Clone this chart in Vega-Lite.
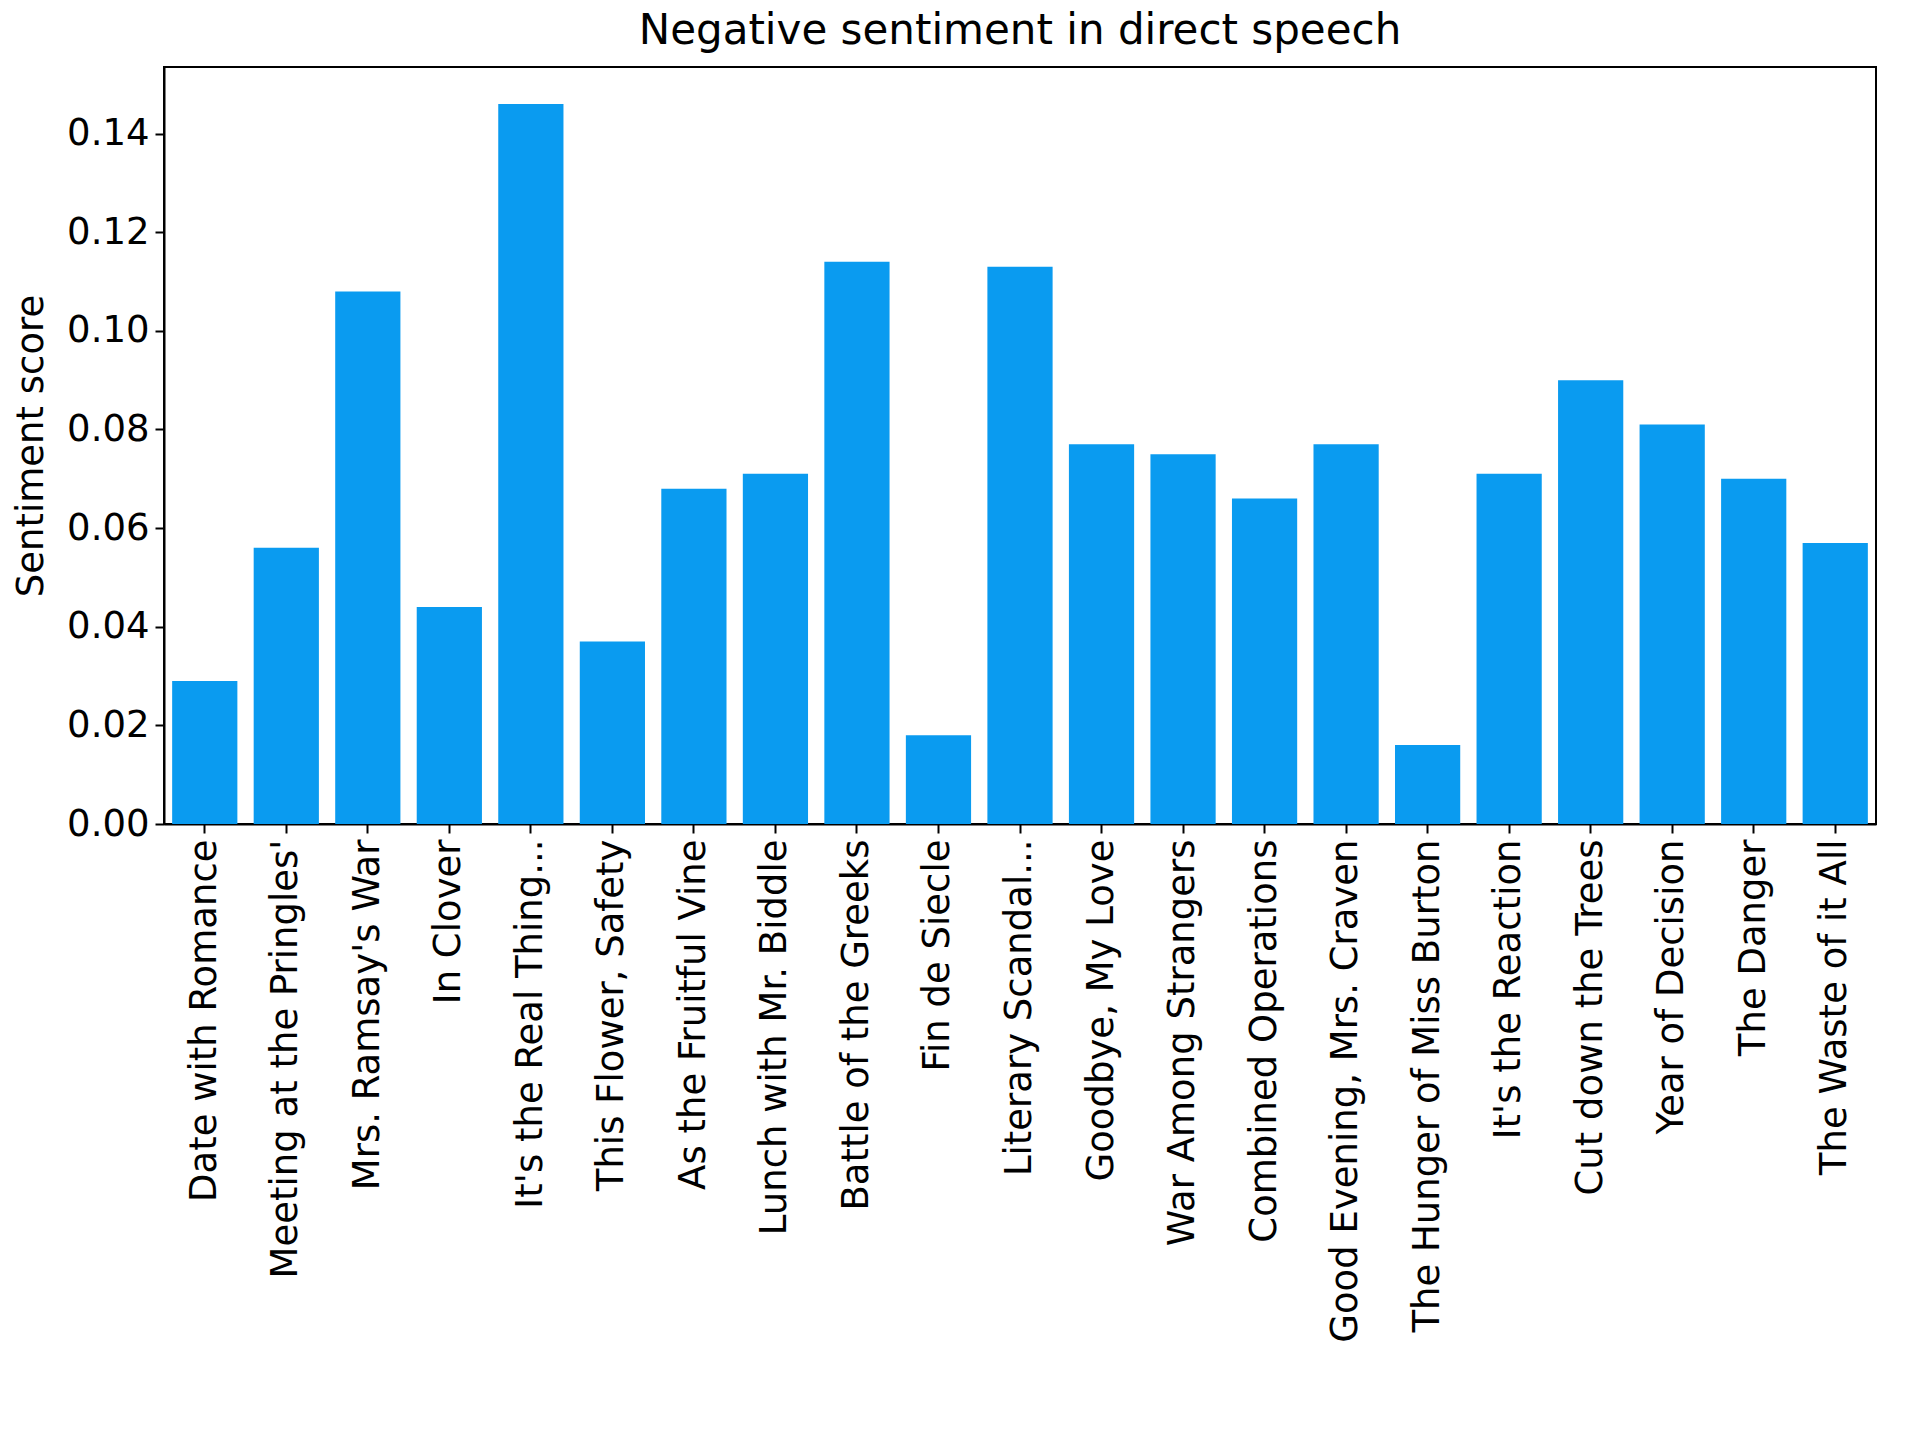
{
  "$schema": "https://vega.github.io/schema/vega-lite/v6.json",
  "width": 1712,
  "height": 757,
  "padding": {"left": 12, "top": 10, "right": 12, "bottom": 10},
  "title": {"text": "Negative sentiment in direct speech", "fontSize": 42, "font": "DejaVu Sans", "fontWeight": "normal", "color": "black", "offset": 14},
  "config": {
    "font": "DejaVu Sans",
    "view": {"stroke": "black", "strokeWidth": 2},
    "axis": {"grid": false, "domainColor": "black", "domainWidth": 2, "tickColor": "black", "tickWidth": 2, "tickSize": 9, "labelFontSize": 37, "labelColor": "black", "titleFontSize": 37, "titleFontWeight": "normal", "titleColor": "black", "labelPadding": 6}
  },
  "data": {"values": [
    {"story": "Date with Romance", "score": 0.029},
    {"story": "Meeting at the Pringles'", "score": 0.056},
    {"story": "Mrs. Ramsay's War", "score": 0.108},
    {"story": "In Clover", "score": 0.044},
    {"story": "It's the Real Thing...", "score": 0.146},
    {"story": "This Flower, Safety", "score": 0.037},
    {"story": "As the Fruitful Vine", "score": 0.068},
    {"story": "Lunch with Mr. Biddle", "score": 0.071},
    {"story": "Battle of the Greeks", "score": 0.114},
    {"story": "Fin de Siecle", "score": 0.018},
    {"story": "Literary Scandal...", "score": 0.113},
    {"story": "Goodbye, My Love", "score": 0.077},
    {"story": "War Among Strangers", "score": 0.075},
    {"story": "Combined Operations", "score": 0.066},
    {"story": "Good Evening, Mrs. Craven", "score": 0.077},
    {"story": "The Hunger of Miss Burton", "score": 0.016},
    {"story": "It's the Reaction", "score": 0.071},
    {"story": "Cut down the Trees", "score": 0.090},
    {"story": "Year of Decision", "score": 0.081},
    {"story": "The Danger", "score": 0.070},
    {"story": "The Waste of it All", "score": 0.057}
  ]},
  "mark": {"type": "bar", "color": "#0a9bf0"},
  "encoding": {
    "x": {"field": "story", "type": "nominal", "sort": null, "title": null,
      "scale": {"paddingInner": 0.2, "paddingOuter": 0.1},
      "axis": {"labelAngle": -90, "labelAlign": "right", "labelBaseline": "middle", "labelLimit": 800}},
    "y": {"field": "score", "type": "quantitative", "title": "Sentiment score",
      "scale": {"domain": [0, 0.1535], "nice": false},
      "axis": {"values": [0, 0.02, 0.04, 0.06, 0.08, 0.1, 0.12, 0.14], "format": ".2f", "titlePadding": 16}}
  }
}
